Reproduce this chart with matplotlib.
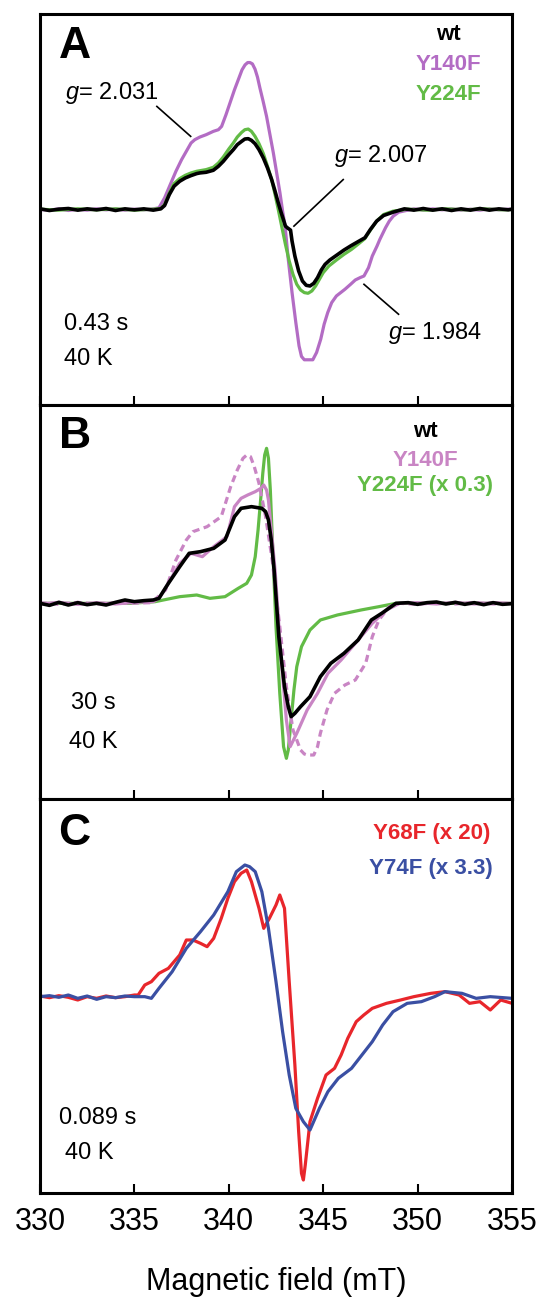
import matplotlib
matplotlib.use("Agg")
import matplotlib.pyplot as plt

plt.rcParams["font.family"] = ["Liberation Sans", "DejaVu Sans"]
plt.rcParams["mathtext.fontset"] = "custom"
plt.rcParams["mathtext.it"] = "Liberation Sans:italic"
plt.rcParams["mathtext.rm"] = "Liberation Sans"

# ---- panel A (0.43 s) ----
a_y140_x = [330, 330.5, 331, 331.5, 332, 332.5, 333, 333.5, 334, 334.5, 335, 335.5, 336, 336.3, 336.6, 336.9,
            337.2, 337.5, 337.8, 338.0, 338.2, 338.47, 338.8, 339.18, 339.45, 339.62, 339.85, 340.06, 340.3,
            340.5, 340.7, 340.86, 341.0, 341.12, 341.25, 341.39, 341.52, 341.65, 341.82, 342.0, 342.18,
            342.36, 342.55, 342.71, 342.85, 342.98, 343.15, 343.35, 343.55, 343.72, 343.85, 344.0, 344.45,
            344.65, 344.87, 345.05, 345.24, 345.45, 345.7, 346.15, 346.45, 346.7, 346.95, 347.16, 347.4,
            347.6, 347.85, 348.0, 348.3, 348.5, 348.71, 349.0, 349.4, 349.8, 350.3, 350.8, 351.3, 351.8,
            352.3, 352.8, 353.3, 353.8, 354.3, 354.8, 355]
a_y140_y = [0, -0.02, 0.02, -0.03, 0.01, -0.02, 0.02, -0.01, 0.02, -0.02, 0.01, -0.01, 0.02, 0.05, 0.35, 0.75,
            1.15, 1.5, 1.8, 2.0, 2.1, 2.18, 2.25, 2.35, 2.4, 2.5, 2.85, 3.2, 3.6,
            3.9, 4.2, 4.35, 4.42, 4.42, 4.38, 4.22, 3.98, 3.65, 3.25, 2.8, 2.25,
            1.7, 1.05, 0.5, -0.05, -0.5, -1.5, -2.5, -3.4, -4.1, -4.42, -4.52, -4.52,
            -4.3, -3.9, -3.45, -3.1, -2.8, -2.6, -2.4, -2.25, -2.12, -2.05, -2.0, -1.75,
            -1.4, -1.1, -0.9, -0.55, -0.35, -0.2, -0.08, -0.03, 0.02, -0.02, 0.02, -0.01, 0.02,
            -0.02, 0.01, -0.02, 0.02, -0.01, 0.01, 0]
a_y224_x = [330, 331, 332, 333, 334, 335, 336, 336.4, 336.6, 336.85, 337.1, 337.4, 337.7, 338.0, 338.3, 338.8,
            339.18, 339.45, 339.71, 340.0, 340.24, 340.45, 340.68, 340.85, 341.03, 341.2, 341.39, 341.6,
            341.83, 342.05, 342.27, 342.45, 342.62, 342.8, 343.0, 343.2, 343.4, 343.6, 343.8, 344.0, 344.2,
            344.4, 344.6, 344.8, 345.0, 345.3, 345.7, 346.1, 346.5, 346.9, 347.2, 347.5, 347.83, 348.2,
            348.7, 349.5, 350.5, 351.5, 352.5, 353.5, 354.5, 355]
a_y224_y = [0.01, -0.02, 0.02, -0.01, 0.02, -0.02, 0.01, 0.03, 0.15, 0.5, 0.78, 0.93, 1.03, 1.1, 1.15, 1.2,
            1.27, 1.4, 1.58, 1.82, 2.0, 2.18, 2.32, 2.4, 2.42, 2.35, 2.2, 1.98,
            1.68, 1.3, 0.9, 0.45, 0.0, -0.5, -1.05, -1.55, -1.95, -2.25, -2.42, -2.5, -2.52,
            -2.45, -2.3, -2.1, -1.9, -1.7, -1.52, -1.35, -1.2, -1.02, -0.88, -0.62, -0.35, -0.15,
            -0.05, 0.01, -0.02, 0.02, -0.01, 0.02, -0.01, 0]
a_wt_x = [330, 330.5, 331, 331.5, 332, 332.5, 333, 333.5, 334, 334.5, 335, 335.5, 336, 336.4, 336.6, 336.85,
          337.1, 337.4, 337.7, 338.0, 338.3, 338.47, 338.8, 339.18, 339.45, 339.71, 340.0, 340.24, 340.45,
          340.68, 340.85, 341.03, 341.2, 341.39, 341.6, 341.83, 342.05, 342.27, 342.45, 342.62, 342.75,
          342.89, 343.0, 343.1, 343.27, 343.35, 343.5, 343.7, 343.9, 344.1, 344.3, 344.5, 344.7, 344.9,
          345.1, 345.35, 345.7, 346.1, 346.5, 346.9, 347.21, 347.5, 347.83, 348.2, 348.7, 349.3, 349.8,
          350.3, 350.8, 351.3, 351.8, 352.3, 352.8, 353.3, 353.8, 354.3, 354.8, 355]
a_wt_y = [0.02, -0.03, 0.01, 0.03, -0.02, 0.02, -0.01, 0.03, -0.03, 0.02, -0.01, 0.02, -0.02, 0.02, 0.12, 0.45,
          0.7, 0.85, 0.95, 1.02, 1.08, 1.1, 1.12, 1.18, 1.3, 1.45, 1.65, 1.8, 1.95,
          2.05, 2.12, 2.13, 2.08, 1.98, 1.8, 1.55, 1.25, 0.9, 0.55, 0.2, -0.05,
          -0.3, -0.5, -0.55, -0.62, -0.95, -1.4, -1.85, -2.15, -2.28, -2.3, -2.22, -2.05, -1.82,
          -1.65, -1.52, -1.38, -1.22, -1.08, -0.95, -0.85, -0.6, -0.35, -0.18, -0.08, 0.02, -0.02,
          0.03, -0.02, 0.02, -0.03, 0.02, -0.02, 0.03, -0.02, 0.02, -0.01, 0.01]

# ---- panel B (30 s) ----
b_y224_x = [330, 334.8, 336.1, 337.4, 338.3, 339.0, 339.8, 340.5, 340.95, 341.2, 341.4, 341.55, 341.7, 341.8,
            341.9, 342.0, 342.1, 342.2, 342.3, 342.5, 342.7, 342.9, 343.05, 343.15, 343.3, 343.45, 343.6,
            343.85, 344.3, 344.85, 345.75, 347.0, 347.95, 348.85, 355]
b_y224_y = [0, 0, 0.05, 0.2, 0.25, 0.15, 0.2, 0.45, 0.6, 0.85, 1.4, 2.2, 3.2, 3.9,
            4.45, 4.65, 4.35, 3.4, 2.0, -0.7, -2.7, -4.3, -4.65, -4.4, -3.5, -2.6, -1.9,
            -1.3, -0.8, -0.5, -0.35, -0.2, -0.1, 0, 0]
b_y140d_x = [330, 331, 332, 333, 334, 334.8, 335.9, 336.65, 337.2, 337.75, 338.1, 338.85, 339.6, 340.1, 340.45,
             340.75, 340.95, 341.15, 341.35, 341.6, 341.95, 342.3, 342.7, 343.05, 343.4, 343.8, 344.0,
             344.15, 344.5, 344.7, 344.85, 345.2, 345.6, 346.15, 346.7, 347.25, 347.6, 347.95, 348.5,
             349.05, 350, 351, 352, 353, 354, 355]
b_y140d_y = [0.02, -0.03, 0.03, -0.02, 0.02, 0, 0.02, 0.4, 1.3, 1.9, 2.15, 2.3, 2.6, 3.5, 4.0,
             4.35, 4.45, 4.4, 4.1, 3.6, 2.6, 1.3, -0.7, -2.5, -3.8, -4.4, -4.52,
             -4.55, -4.55, -4.3, -3.9, -3.2, -2.7, -2.45, -2.3, -1.8, -1.0, -0.5, -0.1,
             0, -0.03, 0.02, -0.02, 0.03, -0.02, 0]
b_y140_x = [330, 331, 332, 333, 334, 335, 336, 336.3, 336.8, 337.4, 338.0, 338.6, 339.2, 339.9, 340.3, 340.65,
            341.0, 341.4, 341.7, 341.85, 342.0, 342.1, 342.45, 342.75, 343.05, 343.25, 343.6, 344.15, 344.7,
            345.25, 345.95, 346.85, 347.6, 348.35, 349.05, 350, 351, 352, 353, 354, 355]
b_y140_y = [-0.02, 0.03, -0.03, 0.02, -0.02, 0.03, 0.05, 0.15, 0.6, 1.2, 1.5, 1.4, 1.7, 2.0, 2.9, 3.15,
            3.25, 3.35, 3.45, 3.55, 3.4, 3.1, 1.0, -1.5, -3.5, -4.3, -3.9, -3.2, -2.7,
            -2.1, -1.7, -1.1, -0.6, -0.2, 0, 0.02, -0.02, 0.03, -0.02, 0.02, 0]
b_wt_x = [330, 330.5, 331, 331.5, 332, 332.5, 333, 333.5, 334, 334.5, 335, 335.5, 336, 336.3, 336.8, 337.4,
          337.9, 338.5, 339.2, 339.8, 340.3, 340.65, 341.2, 341.75, 341.95, 342.1, 342.25, 342.4, 342.65,
          342.95, 343.15, 343.3, 343.5, 343.8, 344.3, 344.85, 345.4, 346.1, 346.85, 347.55, 348.1, 348.85,
          349.5, 350, 350.5, 351, 351.5, 352, 352.5, 353, 353.5, 354, 354.5, 355]
b_wt_y = [0, -0.06, 0.03, -0.05, 0.02, -0.04, 0.0, -0.05, 0.03, 0.1, 0.05, 0.08, 0.1, 0.15, 0.6, 1.1,
          1.5, 1.55, 1.65, 1.9, 2.6, 2.85, 2.9, 2.85, 2.75, 2.5, 1.9, 1.0, -1.0,
          -2.5, -3.1, -3.4, -3.3, -3.1, -2.8, -2.2, -1.8, -1.5, -1.1, -0.5, -0.3, 0,
          0.02, -0.03, 0.02, 0.04, -0.02, 0.03, -0.03, 0.02, -0.04, 0.02, -0.03, -0.01]

# ---- panel C (0.089 s) ----
c_y68_x = [330, 330.5, 331, 331.5, 332, 332.5, 333, 333.5, 334, 334.5, 335.0, 335.2, 335.55, 335.9, 336.3,
           336.8, 337.4, 337.75, 338.1, 338.5, 338.85, 339.2, 339.6, 339.95, 340.3, 340.65, 340.95, 341.2,
           341.6, 341.85, 342.15, 342.5, 342.7, 342.95, 343.2, 343.5, 343.7, 343.85, 343.95, 344.05, 344.3,
           344.7, 345.15, 345.6, 345.95, 346.3, 346.75, 347.15, 347.6, 348.35, 349.1, 349.8, 350.7, 351.45,
           352.2, 352.75, 353.3, 353.85, 354.4, 355]
c_y68_y = [0.02, -0.03, 0.03, -0.02, -0.1, 0.0, -0.05, 0.02, -0.03, 0.0, 0.05, 0.05, 0.35, 0.45, 0.7,
           0.85, 1.25, 1.7, 1.7, 1.6, 1.5, 1.75, 2.35, 2.95, 3.45, 3.7, 3.8, 3.45,
           2.65, 2.05, 2.35, 2.75, 3.05, 2.65, 0.45, -2.05, -4.05, -5.3, -5.5, -5.05, -3.75,
           -3.05, -2.35, -2.15, -1.75, -1.25, -0.75, -0.55, -0.35, -0.2, -0.1, 0.0, 0.1, 0.15,
           0.05, -0.2, -0.15, -0.4, -0.1, -0.2]
c_y74_x = [330, 330.5, 331, 331.5, 332, 332.5, 333, 333.5, 334, 334.5, 335, 335.55, 335.9, 336.3, 337.0,
           337.75, 338.5, 339.2, 339.95, 340.4, 340.85, 341.1, 341.4, 341.75, 342.1, 342.5, 342.85, 343.2,
           343.55, 343.95, 344.3, 344.8, 345.25, 345.8, 346.5, 347.05, 347.6, 348.15, 348.7, 349.45, 350.2,
           350.9, 351.45, 352.35, 353.1, 353.85, 355]
c_y74_y = [0.0, 0.03, -0.02, 0.05, -0.05, 0.02, -0.08, 0.0, -0.03, 0.02, 0.0, 0.0, -0.05, 0.25, 0.75,
           1.45, 1.95, 2.45, 3.15, 3.75, 3.95, 3.9, 3.75, 3.15, 2.05, 0.45, -1.05, -2.35,
           -3.35, -3.75, -4.0, -3.35, -2.85, -2.45, -2.15, -1.75, -1.35, -0.85, -0.45, -0.2, -0.15,
           0.0, 0.15, 0.1, -0.05, 0.0, -0.05]

purple = "#b36cc4"
purple_b = "#c985c4"
green = "#62bb46"
red = "#e8262b"
blue = "#3a4fa3"

fig = plt.figure(figsize=(5.42, 13.02), dpi=100)
L, W = 40 / 542, 472 / 542
axA = fig.add_axes([L, 1 - 405 / 1302, W, 391 / 1302])
axB = fig.add_axes([L, 1 - 799 / 1302, W, 394 / 1302])
axC = fig.add_axes([L, 1 - 1193 / 1302, W, 394 / 1302])

for ax in (axA, axB, axC):
    ax.set_xlim(330, 355)
    ax.set_xticks([330, 335, 340, 345, 350, 355])
    ax.set_yticks([])
    ax.tick_params(axis="x", direction="in", length=6.5, width=1.5, labelsize=22, pad=10)
    for s in ax.spines.values():
        s.set_linewidth(2.2)
axA.tick_params(labelbottom=False)
axB.tick_params(labelbottom=False)

lw = 2.3
kw = dict(solid_joinstyle="round", solid_capstyle="round")
# A
axA.set_ylim(-5.88, 5.88)
axA.plot(a_y140_x, a_y140_y, color=purple, lw=lw, **kw)
axA.plot(a_y224_x, a_y224_y, color=green, lw=lw, **kw)
axA.plot(a_wt_x, a_wt_y, color="black", lw=2.6, **kw)
axA.text(330.98, 4.9, "A", fontsize=32, fontweight="bold", va="center")
axA.text(351.64, 5.25, "wt", fontsize=16, fontweight="bold", ha="center", va="center", color="black")
axA.text(351.64, 4.35, "Y140F", fontsize=16, fontweight="bold", ha="center", va="center", color=purple)
axA.text(351.64, 3.45, "Y224F", fontsize=16, fontweight="bold", ha="center", va="center", color=green)
axA.text(331.34, 3.5, "$g$= 2.031", fontsize=17, va="center")
axA.plot([336.19, 337.98], [3.1, 2.2], color="black", lw=1.2)
axA.text(345.57, 1.6, "$g$= 2.007", fontsize=17, va="center")
axA.plot([346.06, 343.45], [0.9, -0.5], color="black", lw=1.2)
axA.text(348.44, -3.7, "$g$= 1.984", fontsize=17, va="center")
axA.plot([347.16, 348.99], [-2.25, -3.15], color="black", lw=1.2)
axA.text(331.25, -3.45, "0.43 s", fontsize=17, va="center")
axA.text(331.25, -4.5, "40 K", fontsize=17, va="center")

# B
axB.set_ylim(-5.87, 5.95)
axB.plot(b_y224_x, b_y224_y, color=green, lw=lw, **kw)
axB.plot(b_y140d_x, b_y140d_y, color=purple_b, lw=lw, dashes=(2.2, 1.4))
axB.plot(b_y140_x, b_y140_y, color=purple_b, lw=lw, **kw)
axB.plot(b_wt_x, b_wt_y, color="black", lw=2.6, **kw)
axB.text(330.98, 5.0, "B", fontsize=32, fontweight="bold", va="center")
axB.text(350.4, 5.15, "wt", fontsize=16, fontweight="bold", ha="center", va="center", color="black")
axB.text(350.4, 4.3, "Y140F", fontsize=16, fontweight="bold", ha="center", va="center", color=purple_b)
axB.text(350.4, 3.55, "Y224F (x 0.3)", fontsize=16, fontweight="bold", ha="center", va="center", color=green)
axB.text(332.8, -3.0, "30 s", fontsize=17, ha="center", va="center")
axB.text(332.8, -4.15, "40 K", fontsize=17, ha="center", va="center")

# C
axC.set_ylim(-5.89, 5.93)
axC.plot(c_y68_x, c_y68_y, color=red, lw=lw, **kw)
axC.plot(c_y74_x, c_y74_y, color=blue, lw=lw, **kw)
axC.text(330.98, 4.9, "C", fontsize=32, fontweight="bold", va="center")
axC.text(350.72, 4.9, "Y68F (x 20)", fontsize=16, fontweight="bold", ha="center", va="center", color=red)
axC.text(350.72, 3.85, "Y74F (x 3.3)", fontsize=16, fontweight="bold", ha="center", va="center", color=blue)
axC.text(330.98, -3.65, "0.089 s", fontsize=17, va="center")
axC.text(331.3, -4.7, "40 K", fontsize=17, va="center")
axC.set_xlabel("Magnetic field (mT)", fontsize=22, labelpad=22)

fig.savefig("out.png", dpi=100)
